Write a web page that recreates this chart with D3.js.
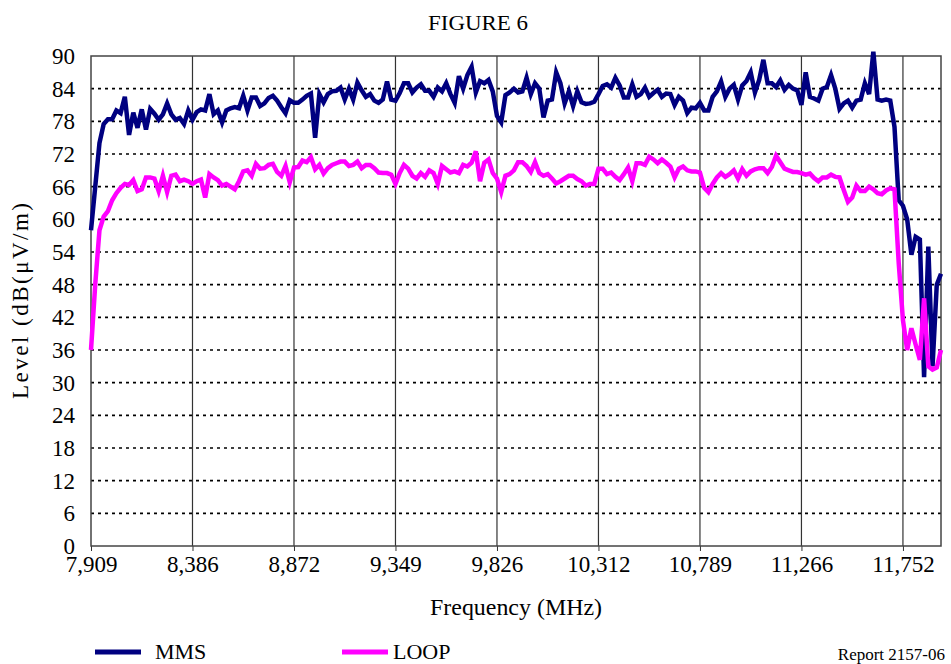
<!DOCTYPE html>
<html>
<head>
<meta charset="utf-8">
<script src="https://cdn.jsdelivr.net/npm/d3@7"></script>
<style>
  body { margin: 0; background: #fff; }
  svg text { font-family: "Liberation Serif", "Times New Roman", serif; fill: #000; }
</style>
</head>
<body>
<div id="grafico"></div>
<script>
'use strict';

// etiquetas del eje x (una cada 24 muestras)
var tickLabels = ["7,909", "8,386", "8,872", "9,349", "9,826", "10,312", "10,789", "11,266", "11,752"];
var tickStep = 24;
var yTicks = [0, 6, 12, 18, 24, 30, 36, 42, 48, 54, 60, 66, 72, 78, 84, 90];

// niveles medidos, dB(uV/m)
var mms = [
  58, 66, 74, 77.5, 78.4, 78.4, 80, 79.5, 82.5, 75.5,
  79.6, 76.8, 80.2, 76.5, 80.3, 79.4, 78.3, 79.3, 81.3, 79.3,
  78.3, 78.6, 77.5, 80, 78.3, 79.7, 80.2, 80, 83, 79.3,
  80, 77.8, 80, 80.4, 80.6, 80.4, 82.7, 80, 82.4, 82.4,
  80.8, 81.3, 82.3, 82.7, 81.8, 80.6, 79.5, 81.9, 81.4, 81.4,
  82, 82.7, 83.1, 75, 83, 81.5, 83, 83.5, 83.6, 84.2,
  82, 84, 82, 85.1, 83.7, 82.5, 83, 81.8, 81.4, 82,
  85.3, 82, 81.8, 83.2, 85, 85, 83.3, 84.2, 84.8, 83.6,
  83.6, 82.5, 84.2, 83.5, 85, 83, 81.4, 86.3, 84, 86.5,
  88, 83.3, 85.4, 85, 85.6, 83.5, 79, 77.8, 82.8, 83.3,
  84, 83.3, 83.5, 86, 83, 85, 84, 78.7, 81.8, 82,
  87, 85, 81.3, 83.5, 80.8, 83.5, 81.5, 81.2, 81.3, 81.6,
  83, 84.5, 84.8, 84.2, 86, 84.6, 82.4, 82.4, 84.8, 82.5,
  83, 84.2, 82.5, 83.2, 83.8, 82.5, 83.1, 83, 81, 82.5,
  81.8, 79.5, 80.5, 80.4, 81.4, 80, 80, 82.5, 83.5, 85.3,
  82.5, 84, 84.7, 82, 84.6, 85.4, 87, 83.3, 85.6, 89.3,
  85, 85, 84.3, 85.5, 83.8, 84.7, 84, 83.7, 81, 87,
  82.5, 82.2, 81.8, 84, 84.3, 86.5, 84, 80.3, 81.3, 81.8,
  80.5, 81.8, 82, 85, 83, 90.8, 82, 81.8, 82, 81.8,
  77, 63.5, 62.5, 60, 53.5, 56.8, 56.3, 31, 55, 33,
  48, 50
];

var loop = [
  36, 48, 58, 60.5, 61.5, 63.5, 64.8, 65.8, 66.5, 66.3,
  67.2, 65.2, 65.5, 67.7, 67.7, 67.5, 65.2, 68, 65, 68,
  68.2, 67, 67.3, 67, 66.5, 67, 67.3, 64, 68.3, 67.7,
  67.2, 66.2, 66.5, 66, 65.5, 67, 68.8, 69, 68, 70.2,
  69.3, 69.4, 70, 70.2, 68.7, 68, 69.8, 66.8, 69.5, 69.6,
  70.8, 70.5, 71.4, 69.2, 70, 68.4, 69.4, 70, 70.3, 70.6,
  70.6, 69.8, 70, 70.6, 69.4, 70, 70, 69.4, 68.6, 68.5,
  68.5, 68.2, 66.5, 68.5, 70, 69.3, 68, 67.5, 68.5, 67.8,
  69, 68.5, 66.5, 69.8, 69.2, 68.6, 68.8, 68.5, 70, 69.7,
  70.4, 72.5, 67, 70.4, 71, 68.5, 67.5, 65, 68, 68.3,
  69, 70.5, 70.5, 69.8, 68.7, 70.5, 68.5, 68, 68.3, 67.5,
  66.6, 67, 67.5, 68, 68, 67.4, 67, 66.2, 66.5, 66.5,
  69.3, 69.3, 68.3, 68.6, 67.8, 67.2, 68.3, 69.5, 67, 70.3,
  70.3, 70, 71.5, 71, 70.3, 71, 70.4, 69.7, 67.7, 69.3,
  69.7, 69, 68.8, 68.8, 68.6, 65.8, 65, 66.5, 67.7, 68.5,
  67.8, 68.3, 69, 67.5, 69.2, 68, 68.8, 69.2, 69.4, 69.4,
  68.5, 69.6, 71.7, 70.5, 69.3, 69, 68.7, 68.7, 68.5, 68.2,
  68.4, 67.6, 67, 67.7, 67.7, 68.2, 67.8, 67.7, 65.4, 63.2,
  64, 66.2, 65.2, 65.2, 66, 65.5, 64.8, 64.6, 65.3, 65.7,
  65.5, 52, 41.5, 36, 40, 37, 34.2, 45.5, 33, 32.4,
  32.8, 36
];

var width = 951,
    height = 664,
    margin = { top: 56, right: 10, bottom: 118, left: 91 };

var svg = d3.select("#grafico").append("svg")
    .attr("width", width)
    .attr("height", height);

var x = d3.scaleLinear()
    .domain([0, mms.length - 1])
    .range([margin.left, width - margin.right]);

var y = d3.scaleLinear()
    .domain([0, 90])
    .range([height - margin.bottom, margin.top]);

var tickIdx = tickLabels.map(function(d, i) { return i * tickStep; });

// titulo
svg.append("text")
    .attr("x", 478)
    .attr("y", 30)
    .attr("text-anchor", "middle")
    .attr("textLength", 100)
    .attr("lengthAdjust", "spacingAndGlyphs")
    .style("font-size", "21px")
    .text("FIGURE 6");

// rejilla horizontal punteada
svg.append("g")
    .selectAll("line")
    .data(yTicks.filter(function(d) { return d > 0 && d < 90; }))
  .enter().append("line")
    .attr("x1", margin.left)
    .attr("x2", width - margin.right)
    .attr("y1", function(d) { return y(d); })
    .attr("y2", function(d) { return y(d); })
    .attr("stroke", "#000")
    .attr("stroke-width", 1.6)
    .attr("stroke-dasharray", "3,4");

// rejilla vertical
svg.append("g")
    .selectAll("line")
    .data(tickIdx.slice(1))
  .enter().append("line")
    .attr("x1", function(d) { return x(d); })
    .attr("x2", function(d) { return x(d); })
    .attr("y1", margin.top)
    .attr("y2", height - margin.bottom)
    .attr("stroke", "#333")
    .attr("stroke-width", 1.2);

// eje x
var xAxis = d3.axisBottom(x)
    .tickValues(tickIdx)
    .tickFormat(function(d, i) { return tickLabels[i]; })
    .tickSize(5)
    .tickPadding(5);

var gx = svg.append("g")
    .attr("transform", "translate(0," + (height - margin.bottom) + ")")
    .call(xAxis);
gx.select(".domain").remove();
gx.selectAll(".tick line").attr("stroke", "#333");
gx.selectAll("text")
    .style("font-size", "23px")
    .style("font-family", "'Liberation Serif', serif");

// eje y
var yAxis = d3.axisLeft(y)
    .tickValues(yTicks)
    .tickSize(0)
    .tickPadding(16);

var gy = svg.append("g")
    .attr("transform", "translate(" + margin.left + ",0)")
    .call(yAxis);
gy.select(".domain").remove();
gy.selectAll("text")
    .style("font-size", "23px")
    .style("font-family", "'Liberation Serif', serif");

// marco del area de trazado
svg.append("rect")
    .attr("x", margin.left)
    .attr("y", margin.top)
    .attr("width", width - margin.right - margin.left)
    .attr("height", height - margin.bottom - margin.top)
    .attr("fill", "none")
    .attr("stroke", "#444")
    .attr("stroke-width", 1.5);

// series
var line = d3.line()
    .x(function(d, i) { return x(i); })
    .y(function(d) { return y(d); });

svg.append("path")
    .datum(mms)
    .attr("d", line)
    .attr("fill", "none")
    .attr("stroke", "#000080")
    .attr("stroke-width", 4.5)
    .attr("stroke-linejoin", "miter");

svg.append("path")
    .datum(loop)
    .attr("d", line)
    .attr("fill", "none")
    .attr("stroke", "#ff00ff")
    .attr("stroke-width", 4.5)
    .attr("stroke-linejoin", "miter");

// titulos de ejes
svg.append("text")
    .attr("x", (margin.left + width - margin.right) / 2)
    .attr("y", 615)
    .attr("text-anchor", "middle")
    .attr("textLength", 172)
    .attr("lengthAdjust", "spacingAndGlyphs")
    .style("font-size", "23px")
    .text("Frequency (MHz)");

svg.append("text")
    .attr("transform", "translate(28," + ((margin.top + height - margin.bottom) / 2) + ") rotate(-90)")
    .attr("text-anchor", "middle")
    .attr("textLength", 196)
    .attr("lengthAdjust", "spacing")
    .style("font-size", "23px")
    .text("Level (dB(\u03bcV/m)");

// leyenda
var legend = [
  { name: "MMS", color: "#000080", x: 95 },
  { name: "LOOP", color: "#ff00ff", x: 342 }
];

var lg = svg.selectAll(".legend")
    .data(legend)
  .enter().append("g")
    .attr("class", "legend")
    .attr("transform", function(d) { return "translate(" + d.x + ",652)"; });

lg.append("line")
    .attr("x1", 0)
    .attr("x2", 46)
    .attr("stroke", function(d) { return d.color; })
    .attr("stroke-width", 5);

lg.append("text")
    .attr("x", function(d) { return d.name === "MMS" ? 60 : 51; })
    .attr("y", 7)
    .style("font-size", "22px")
    .text(function(d) { return d.name; });

svg.append("text")
    .attr("x", 945)
    .attr("y", 660)
    .attr("text-anchor", "end")
    .style("font-size", "17px")
    .text("Report 2157-06");
</script>
</body>
</html>
